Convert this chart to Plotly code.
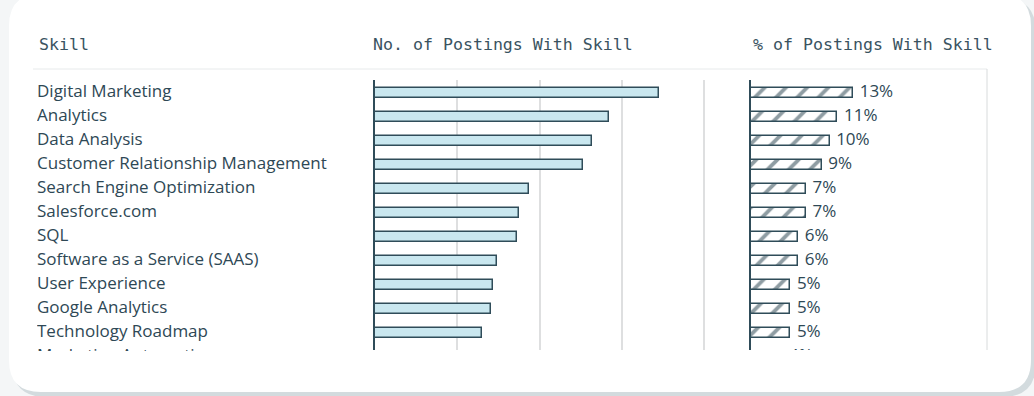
import plotly.graph_objects as go

# Skill rows, top to bottom
skills = [
    "Digital Marketing",
    "Analytics",
    "Data Analysis",
    "Customer Relationship Management",
    "Search Engine Optimization",
    "Salesforce.com",
    "SQL",
    "Software as a Service (SAAS)",
    "User Experience",
    "Google Analytics",
    "Technology Roadmap",
    "Marketing Automation",
]
# Number of job postings mentioning each skill
postings = [3450, 2845, 2637, 2527, 1871, 1750, 1725, 1482, 1434, 1410, 1300, 1215]
# Share of postings mentioning each skill (%)
share_pct = [13, 11, 10, 9, 7, 7, 6, 6, 5, 5, 5, 4]

W, H = 1034, 396
TEXT = "#2e4855"
HEAD = "#3a5361"
BAR_FILL = "#c9e7ef"
BAR_LINE = "#2f4c59"
GRID = "#dedfe0"


def px_x(p):
    return p / W


def px_y(p):
    return 1 - p / H


rows = list(range(len(skills)))
first_row = 93   # centre of the first row, px from the top
row_step = 24
top, bottom = 80, 350


def y_range(bot):
    return [(bot - first_row) / row_step, -(first_row - top) / row_step]


y_dom = [px_y(bottom), px_y(top)]

fig = go.Figure()

# skill names (clipped to the scroll area)
fig.add_trace(go.Scatter(
    x=[0] * len(skills), y=rows, text=skills, mode="text",
    textposition="middle right", cliponaxis=True, hoverinfo="skip",
    textfont=dict(family="Open Sans", size=17, color=TEXT),
    xaxis="x", yaxis="y", showlegend=False,
))

# posting counts
fig.add_trace(go.Bar(
    x=postings, y=rows, orientation="h", width=0.4,
    marker=dict(color=BAR_FILL, line=dict(color=BAR_LINE, width=1.5)),
    xaxis="x2", yaxis="y2", showlegend=False, cliponaxis=True, hoverinfo="x",
))

# share of postings, hatched
fig.add_trace(go.Bar(
    x=share_pct, y=rows, orientation="h", width=0.4,
    marker=dict(
        color="white",
        line=dict(color=BAR_LINE, width=1.5),
        pattern=dict(shape="/", fgcolor="#1f3b48", bgcolor="white", size=15, solidity=0.26),
    ),
    cliponaxis=True, xaxis="x3", yaxis="y3", showlegend=False, hoverinfo="x",
))

# percentage labels just past the hatched bars
fig.add_trace(go.Scatter(
    x=share_pct, y=rows, mode="markers+text", texttemplate="%{x}%",
    textposition="middle right", cliponaxis=True, hoverinfo="skip",
    marker=dict(size=9, color="rgba(0,0,0,0)"),
    textfont=dict(family="Open Sans", size=17, color=TEXT),
    xaxis="x3", yaxis="y3", showlegend=False,
))

px_per_k = 82.3
count_max = 4100
px_per_pct = 7.85
label_bottom = 351

fig.update_layout(
    width=W, height=H,
    margin=dict(l=0, r=0, t=0, b=0),
    paper_bgcolor="#f4f6f7",
    plot_bgcolor="rgba(0,0,0,0)",
    bargap=0,
    xaxis=dict(domain=[px_x(37), px_x(350)], range=[0, 1], visible=False, fixedrange=True),
    yaxis=dict(domain=[px_y(label_bottom), px_y(top)], range=y_range(label_bottom), visible=False),
    xaxis2=dict(
        domain=[px_x(375), px_x(375 + px_per_k * count_max / 1000)], range=[0, count_max],
        dtick=1000, showgrid=True, gridcolor=GRID, gridwidth=1.5, zeroline=False,
        showticklabels=False, ticks="", anchor="y2",
    ),
    yaxis2=dict(
        domain=y_dom, range=y_range(bottom), showgrid=False, zeroline=False, showticklabels=False,
        ticks="", showline=True, linecolor=BAR_LINE, linewidth=1.5, anchor="x2",
    ),
    xaxis3=dict(
        domain=[px_x(751), px_x(986)], range=[0, (986 - 751) / px_per_pct],
        showgrid=False, zeroline=False, showticklabels=False, ticks="", anchor="y3",
    ),
    yaxis3=dict(
        domain=y_dom, range=y_range(bottom), showgrid=False, zeroline=False, showticklabels=False,
        ticks="", showline=True, linecolor=BAR_LINE, linewidth=1.5, anchor="x3",
    ),
)

# card with soft shadow
def rounded_rect(x0, y0, x1, y1, r):
    X = lambda v: f"{px_x(v):.5f}"
    Y = lambda v: f"{px_y(v):.5f}"
    return (
        f"M {X(x0 + r)},{Y(y0)} L {X(x1 - r)},{Y(y0)} Q {X(x1)},{Y(y0)} {X(x1)},{Y(y0 + r)} "
        f"L {X(x1)},{Y(y1 - r)} Q {X(x1)},{Y(y1)} {X(x1 - r)},{Y(y1)} "
        f"L {X(x0 + r)},{Y(y1)} Q {X(x0)},{Y(y1)} {X(x0)},{Y(y1 - r)} "
        f"L {X(x0)},{Y(y0 + r)} Q {X(x0)},{Y(y0)} {X(x0 + r)},{Y(y0)} Z"
    )


shapes = [
    dict(type="path", path=rounded_rect(12, -2, 1036, 397, 34), xref="paper", yref="paper",
         fillcolor="#d3dbde", line=dict(width=0), layer="below"),
    dict(type="path", path=rounded_rect(9, -6, 1031, 392, 32), xref="paper", yref="paper",
         fillcolor="white", line=dict(width=0), layer="below"),
    # header rule
    dict(type="line", xref="paper", yref="paper", x0=px_x(33), x1=px_x(987),
         y0=px_y(69), y1=px_y(69), line=dict(color="#e7eaeb", width=1), layer="below"),
    # right edge of the scroll area
    dict(type="line", xref="paper", yref="paper", x0=px_x(987), x1=px_x(987),
         y0=px_y(69), y1=px_y(350), line=dict(color="#d8dbdc", width=1), layer="below"),
]
fig.update_layout(shapes=shapes)

head_font = dict(family="DejaVu Sans Mono", size=16.6, color=HEAD)
for label, x in [("Skill", 37), ("No. of Postings With Skill", 371), ("% of Postings With Skill", 751)]:
    fig.add_annotation(
        text=label, x=px_x(x), y=px_y(44), xref="paper", yref="paper",
        xanchor="left", yanchor="middle", showarrow=False, font=head_font,
    )

fig.write_html("out.html")
